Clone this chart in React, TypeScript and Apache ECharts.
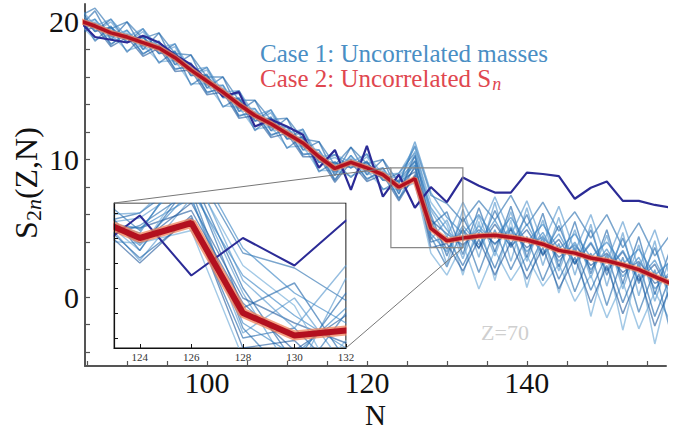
import React, { useEffect, useRef } from "react";
import * as echarts from "echarts";

// Neutron number (even N)
const N = [84, 86, 88, 90, 92, 94, 96, 98, 100, 102, 104, 106, 108, 110, 112, 114, 116, 118, 120, 122, 124, 126, 128, 130, 132, 134, 136, 138, 140, 142, 144, 146, 148, 150, 152, 154, 156, 158];

// Case 2: Uncorrelated Sn (mean, red)
const case2Mean = [20.1, 19.7, 19.2, 18.9, 18.5, 18.1, 17.4, 16.5, 15.7, 14.9, 14.0, 13.2, 12.6, 11.9, 11.2, 10.2, 9.35, 9.8, 9.4, 8.9, 8.0, 8.6, 5.0, 4.1, 4.3, 4.45, 4.5, 4.35, 4.15, 3.85, 3.4, 3.2, 2.85, 2.65, 2.35, 2.0, 1.5, 1.0];

// reference mass model (dark blue)
const reference = [20.1, 18.9, 18.7, 18.5, 19.0, 18.5, 17.6, 16.9, 15.8, 14.6, 14.9, 12.4, 12.9, 12.4, 11.8, 9.4, 10.7, 7.8, 11.0, 7.3, 8.9, 6.5, 8.0, 6.9, 8.7, 8.1, 7.6, 7.6, 9.05, 8.95, 8.8, 7.15, 7.95, 8.4, 7.0, 7.0, 6.7, 6.5];

// Case 1: Uncorrelated masses (samples, blue)
const sample1 = [21.1, 19.3, 20.2, 18.5, 19.5, 17.7, 18.4, 16.1, 16.7, 14.5, 15.0, 12.8, 13.6, 11.5, 12.2, 9.8, 10.35, 9.4, 10.4, 8.5, 9.0, 10.5, 6.0, 3.0, 5.8, 3.5, 6.3, 3.8, 6.0, 3.0, 5.2, 2.4, 4.9, 1.6, 4.3, 1.0, 3.6, 0.4];
const sample2 = [19.2, 20.2, 18.3, 19.4, 17.6, 18.6, 16.5, 17.0, 14.8, 15.4, 13.1, 13.7, 11.7, 12.4, 10.3, 10.7, 8.45, 10.3, 8.5, 9.4, 7.1, 9.6, 4.2, 5.6, 2.8, 5.9, 3.0, 6.2, 2.6, 5.6, 1.9, 4.9, 1.4, 4.5, 0.6, 3.8, -0.3, 3.0];
const sample3 = [20.5, 19.3, 19.6, 18.5, 18.9, 17.7, 17.8, 16.1, 16.1, 14.5, 14.4, 12.8, 13.0, 11.5, 11.6, 9.8, 9.75, 9.4, 9.8, 8.5, 8.4, 9.1, 5.4, 3.5, 4.9, 3.6, 5.3, 3.7, 4.9, 3.1, 4.2, 2.4, 3.9, 1.9, 3.3, 1.2, 2.4, 0.2];
const sample4 = [19.8, 20.2, 18.9, 19.4, 18.2, 18.6, 17.1, 17.0, 15.4, 15.4, 13.7, 13.7, 12.3, 12.4, 10.9, 10.7, 9.05, 10.3, 9.1, 9.4, 7.7, 9.9, 6.5, 4.9, 3.6, 5.2, 3.8, 5.1, 3.3, 4.7, 2.6, 4.0, 2.0, 3.5, 1.5, 2.9, 0.6, 1.9];
const sample5 = [19.9, 18.7, 19.1, 17.9, 18.3, 17.1, 17.2, 15.5, 15.5, 13.9, 13.8, 12.2, 12.4, 10.9, 11.0, 9.2, 9.2, 8.8, 9.2, 7.9, 7.8, 8.3, 3.2, 1.6, 3.9, 0.6, 3.4, 1.2, 3.0, 0.8, 2.4, -0.3, 1.6, -1.5, 1.1, -2.3, 0.4, -1.8];
const sample6 = [20.4, 21.0, 19.5, 20.0, 18.8, 19.2, 17.7, 17.6, 16.0, 16.0, 14.3, 14.3, 12.9, 13.0, 11.5, 11.3, 9.6, 10.9, 9.7, 10.0, 8.3, 11.0, 7.4, 6.8, 5.5, 7.0, 5.6, 7.4, 5.2, 6.9, 4.8, 6.2, 4.3, 6.0, 3.6, 5.4, 3.0, 4.6];
const sample7 = [19.3, 19.9, 18.4, 19.1, 17.7, 18.3, 16.6, 16.7, 14.9, 15.1, 13.2, 13.4, 11.8, 12.1, 10.4, 10.4, 8.55, 10.0, 8.6, 9.1, 7.2, 8.8, 4.0, 4.4, 2.3, 4.7, 2.1, 5.0, 1.9, 4.3, 1.3, 3.6, 0.5, 3.1, -0.4, 2.5, -1.4, 1.6];
const sample8 = [20.9, 19.3, 20.0, 18.5, 19.3, 17.7, 18.2, 16.1, 16.5, 14.5, 14.8, 12.8, 13.4, 11.5, 12.0, 9.8, 10.15, 9.4, 10.2, 8.5, 8.8, 10.2, 5.8, 2.4, 6.4, 2.9, 6.9, 2.6, 6.5, 2.3, 5.8, 1.6, 5.3, 0.8, 4.7, 0.1, 4.1, -0.9];
const sample9 = [19.9, 19.9, 19.0, 19.1, 18.3, 18.3, 17.2, 16.7, 15.5, 15.1, 13.8, 13.4, 12.4, 12.1, 11.0, 10.4, 9.15, 10.0, 9.2, 9.1, 7.8, 9.4, 5.6, 4.6, 3.8, 4.9, 3.9, 4.9, 3.6, 4.4, 2.9, 3.8, 2.3, 3.2, 1.8, 2.6, 1.0, 1.6];
const sample10 = [20.5, 19.5, 19.6, 18.7, 18.9, 17.9, 17.8, 16.3, 16.1, 14.7, 14.4, 13.0, 13.0, 11.7, 11.6, 10.0, 9.75, 9.6, 9.8, 8.7, 8.4, 9.6, 4.6, 3.3, 5.2, 3.8, 5.6, 3.6, 5.3, 3.2, 4.6, 2.5, 4.0, 2.0, 3.4, 1.3, 2.7, 0.4];
const sample11 = [19.6, 20.0, 18.7, 19.2, 18.0, 18.4, 16.9, 16.8, 15.2, 15.2, 13.5, 13.5, 12.1, 12.2, 10.7, 10.5, 8.85, 10.1, 8.9, 9.2, 7.5, 10.6, 6.9, 5.3, 1.6, 5.5, 1.2, 5.6, 0.7, 4.5, 0.3, 3.9, -1.4, 3.0, -2.4, 2.4, -3.4, 1.4];
const sample12 = [20.6, 18.6, 19.7, 17.8, 19.0, 17.0, 17.9, 15.4, 16.2, 13.8, 14.5, 12.1, 13.1, 10.8, 11.7, 9.1, 9.85, 8.7, 9.9, 7.8, 8.5, 9.9, 4.4, 2.2, 5.0, 1.8, 4.9, 2.0, 4.4, 1.2, 3.9, 0.4, 3.2, -0.6, 2.9, -1.1, 2.0, -2.6];
const sample13 = [19.6, 20.8, 18.7, 20.0, 18.0, 19.2, 16.9, 17.6, 15.2, 16.0, 13.5, 14.3, 12.1, 13.0, 10.7, 11.3, 8.85, 10.9, 8.9, 10.0, 7.5, 10.3, 5.2, 6.2, 3.1, 6.5, 3.3, 6.6, 2.9, 6.1, 2.2, 5.5, 1.7, 4.9, 1.0, 4.4, 0.2, 3.6];
const sample14 = [21.1, 19.7, 20.2, 18.9, 19.5, 18.1, 18.4, 16.5, 16.7, 14.9, 15.0, 13.2, 13.6, 11.9, 12.2, 10.2, 10.35, 9.8, 10.4, 8.9, 9.0, 10.9, 6.3, 4.4, 6.9, 4.6, 7.3, 4.5, 7.0, 3.9, 6.6, 3.3, 6.0, 2.6, 5.5, 2.1, 4.9, 1.3];
const sample15 = [19.1, 19.7, 18.2, 18.9, 17.5, 18.1, 16.4, 16.5, 14.7, 14.9, 13.0, 13.2, 11.6, 11.9, 10.2, 10.2, 8.35, 9.8, 8.4, 8.9, 7.0, 8.9, 3.6, 3.9, 1.9, 4.2, 1.6, 4.0, 1.3, 3.6, 0.6, 2.9, -0.4, 2.3, -1.2, 1.7, -2.1, 0.8];
const sample16 = [20.3, 19.6, 19.4, 18.8, 18.6, 18.0, 17.6, 16.4, 15.9, 14.8, 14.2, 13.1, 12.8, 11.8, 11.4, 10.1, 9.55, 9.7, 9.6, 8.8, 8.2, 11.3, 7.6, 5.8, 4.6, 6.0, 4.3, 5.8, 4.0, 5.3, 3.5, 4.6, 2.9, 4.0, 2.4, 3.5, 1.6, 2.6];

const samples = [sample1, sample2, sample3, sample4, sample5, sample6, sample7, sample8, sample9, sample10, sample11, sample12, sample13, sample14, sample15, sample16];

// axis ticks / labels
const xTicks = [85, 90, 95, 100, 105, 110, 115, 120, 125, 130, 135, 140, 145, 150, 155];
const xLabels = [100, 120, 140];
const yTicks = [-4, -2, 0, 2, 4, 6, 8, 10, 12, 14, 16, 18, 20];
const yLabels = [0, 10, 20];
const insetXTicks = [124, 126, 128, 130, 132];
const insetYTicks = [4, 5, 6, 7, 8, 9];

const xRange = [84.75, 157.4];
const yRange = [-5, 21.3];
const zoomN = [123, 132];
const zoomS = [3.6, 9.4];

const SERIF = "Liberation Serif";
const blueShades = [
  "rgba(31,100,170,0.62)",
  "rgba(85,150,205,0.62)",
  "rgba(20,80,150,0.58)",
  "rgba(55,130,195,0.62)",
  "rgba(120,176,218,0.68)",
  "rgba(40,110,175,0.62)",
];

function pts(arr: number[]) {
  return N.map((n, i) => [n, arr[i]]);
}

export default function App() {
  const ref = useRef<HTMLDivElement>(null);
  useEffect(() => {
    const chart = echarts.init(ref.current!, null, { renderer: "svg" });

    const makeSeries = (grid: number, zBase: number, wBlue: number, wRed: number, wHalo: number, wRef: number) => {
      const s: any[] = [];
      samples.forEach((arr, k) => {
        s.push({
          type: "line",
          xAxisIndex: grid,
          yAxisIndex: grid,
          data: pts(arr),
          showSymbol: false,
          symbol: "none",
          silent: true,
          z: zBase,
          lineStyle: { color: blueShades[k % blueShades.length], width: wBlue },
        });
      });
      s.push({
        type: "line", xAxisIndex: grid, yAxisIndex: grid, data: pts(reference), showSymbol: false, symbol: "none", silent: true,
        z: zBase + 1, lineStyle: { color: "#2b2b96", width: wRef },
      });
      s.push({
        type: "line", xAxisIndex: grid, yAxisIndex: grid, data: pts(case2Mean), showSymbol: false, symbol: "none", silent: true,
        z: zBase + 2, lineStyle: { color: "rgba(240,130,90,0.75)", width: wHalo },
      });
      s.push({
        type: "line", xAxisIndex: grid, yAxisIndex: grid, data: pts(case2Mean), showSymbol: false, symbol: "none", silent: true,
        z: zBase + 3, lineStyle: { color: "#b3101f", width: wRed },
      });
      return s;
    };

    const axisColor = "#555";
    const option: any = {
      animation: false,
      backgroundColor: "#fff",
      textStyle: { fontFamily: SERIF },
      grid: [
        { left: 85, top: 4, right: 22, bottom: 64, show: false, containLabel: false, outerBoundsMode: "none" },
        { left: 114, top: 203, width: 232, height: 145, show: true, backgroundColor: "#fff", borderColor: "#111", borderWidth: 1.2, z: 10, containLabel: false, outerBoundsMode: "none" },
      ],
      xAxis: [
        {
          type: "value", gridIndex: 0, min: xRange[0], max: xRange[1],
          axisLine: { show: true, onZero: false, lineStyle: { color: axisColor, width: 2 } },
          axisTick: { show: true, inside: true, length: 5, customValues: xTicks, lineStyle: { color: axisColor, width: 1.2 } },
          axisLabel: { customValues: xLabels, fontSize: 30, lineHeight: 26, color: "#111", fontFamily: SERIF, margin: 3 },
          splitLine: { show: false },
        },
        {
          type: "value", gridIndex: 1, min: zoomN[0], max: zoomN[1], z: 15,
          axisLine: { show: true, onZero: false, lineStyle: { color: "#111", width: 1.2 } },
          axisTick: { show: true, inside: true, length: 4, customValues: insetXTicks, lineStyle: { color: "#111" } },
          axisLabel: { customValues: insetXTicks, fontSize: 11, color: "#333", fontFamily: SERIF, margin: 3 },
          splitLine: { show: false },
        },
      ],
      yAxis: [
        {
          type: "value", gridIndex: 0, min: yRange[0], max: yRange[1],
          axisLine: { show: true, onZero: false, lineStyle: { color: axisColor, width: 2 } },
          axisTick: { show: true, inside: true, length: 5, customValues: yTicks, lineStyle: { color: axisColor, width: 1.2 } },
          axisLabel: { customValues: yLabels, fontSize: 30, color: "#111", fontFamily: SERIF, margin: 6 },
          splitLine: { show: false },
        },
        {
          type: "value", gridIndex: 1, min: zoomS[0], max: zoomS[1], z: 15,
          axisLine: { show: true, onZero: false, lineStyle: { color: "#111", width: 1.2 } },
          axisTick: { show: true, inside: true, length: 4, customValues: insetYTicks, lineStyle: { color: "#111" } },
          axisLabel: { show: false },
          splitLine: { show: false },
        },
      ],
      series: [...makeSeries(0, 2, 1.5, 3.5, 6, 2.2), ...makeSeries(1, 11, 1.4, 6, 10, 2)],
    };
    chart.setOption(option);

    const tl = chart.convertToPixel({ xAxisIndex: 0, yAxisIndex: 0 }, [zoomN[0], zoomS[1]]) as number[];
    const br = chart.convertToPixel({ xAxisIndex: 0, yAxisIndex: 0 }, [zoomN[1], zoomS[0]]) as number[];
    const itl = chart.convertToPixel({ xAxisIndex: 1, yAxisIndex: 1 }, [zoomN[0], zoomS[1]]) as number[];
    const ibr = chart.convertToPixel({ xAxisIndex: 1, yAxisIndex: 1 }, [zoomN[1], zoomS[0]]) as number[];
    const mid = chart.convertToPixel({ xAxisIndex: 0, yAxisIndex: 0 }, [(xRange[0] + xRange[1]) / 2, yRange[0]]) as number[];
    const pad = 5;

    chart.setOption({
      graphic: [
        // white frame hiding the inset lines' overflow past the clip edge
        {
          type: "rect", z: 14.5, silent: true,
          shape: { x: itl[0] - pad, y: itl[1] - pad, width: ibr[0] - itl[0] + 2 * pad, height: ibr[1] - itl[1] + 2 * pad },
          style: { fill: "none", stroke: "#fff", lineWidth: 2 * pad - 1.2 },
        },
        { type: "rect", z: 20, silent: true, shape: { x: tl[0], y: tl[1], width: br[0] - tl[0], height: br[1] - tl[1] }, style: { fill: "none", stroke: "#888", lineWidth: 1.2 } },
        { type: "line", z: 20, silent: true, shape: { x1: itl[0], y1: itl[1], x2: tl[0], y2: tl[1] }, style: { stroke: "#777", lineWidth: 1 } },
        { type: "line", z: 20, silent: true, shape: { x1: ibr[0], y1: ibr[1], x2: br[0], y2: br[1] }, style: { stroke: "#777", lineWidth: 1 } },
        {
          type: "text", z: 30, silent: true, x: mid[0], y: mid[1] + 49,
          style: { text: "N", fill: "#111", fontSize: 29, lineHeight: 22, fontFamily: SERIF, align: "center", verticalAlign: "middle" },
        },
        {
          type: "text", z: 30, silent: true, x: 260, y: 53,
          style: { text: "Case 1: Uncorrelated masses", fill: "#4a8ec4", fontSize: 25, fontFamily: SERIF, verticalAlign: "middle" },
        },
        {
          type: "text", z: 30, silent: true, x: 260, y: 78,
          style: {
            text: "Case 2: Uncorrelated S{sub|n}", fill: "#e0474f", fontSize: 25, fontFamily: SERIF, verticalAlign: "middle",
            rich: { sub: { fontSize: 18, fontStyle: "italic", fontFamily: SERIF, fill: "#e0474f", padding: [12, 0, 0, 1] } },
          },
        },
        {
          type: "text", z: 30, silent: true, x: 505, y: 332,
          style: { text: "Z=70", fill: "#cfcfcf", fontSize: 22, fontFamily: SERIF, align: "center", verticalAlign: "middle" },
        },
        {
          type: "text", z: 30, silent: true, x: 26, y: 183, rotation: Math.PI / 2,
          style: {
            text: "S{sub|2}{subi|n}(Z,N)", fill: "#111", fontSize: 32, fontFamily: SERIF, align: "center", verticalAlign: "middle",
            rich: {
              sub: { fontSize: 22, fontFamily: SERIF, fill: "#111", padding: [14, 0, 0, 0] },
              subi: { fontSize: 22, fontStyle: "italic", fontFamily: SERIF, fill: "#111", padding: [14, 0, 0, 0] },
            },
          },
        },
      ],
    });

    return () => chart.dispose();
  }, []);
  return <div ref={ref} style={{ position: "fixed", left: 0, top: 0, width: 688, height: 430 }} />;
}
